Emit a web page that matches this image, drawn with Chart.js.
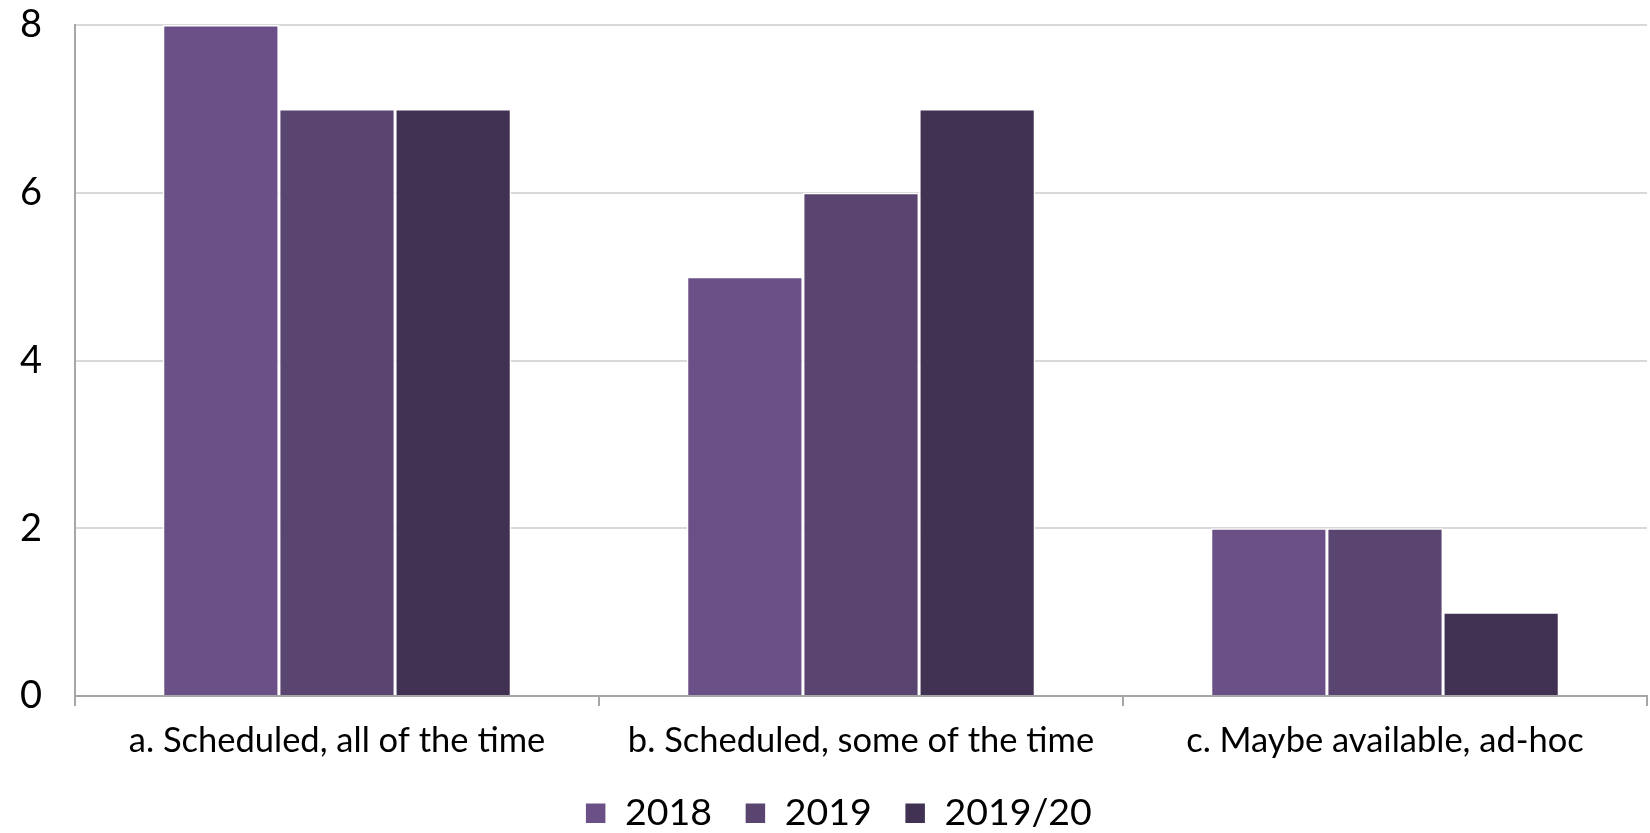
<html><head>
<meta charset="UTF-8">
<title>Scheduled availability</title>
<script src="https://cdn.jsdelivr.net/npm/chart.js"></script>
<style>
    html, body { margin: 0; padding: 0; background: #ffffff; }
    .chart-container { width: 1650px; height: 833px; position: relative; }
</style>
</head>
<body>
<div class="chart-container">
    <canvas id="chart"></canvas>
</div>
<script>
    const categories = ['a. Scheduled, all of the time', 'b. Scheduled, some of the time', 'c. Maybe available, ad-hoc'];
    const series2018 = [8, 5, 2];
    const series2019 = [7, 6, 2];
    const series2020 = [7, 7, 1];
    const yTicks = [0, 2, 4, 6, 8];

    const fontFamily = "Lato, 'Open Sans', sans-serif";

    // nudge the legend a bit to the right, like the original
    const legendShift = {
        id: 'legendShift',
        afterLayout(chart) {
            if (chart.legend) {
                chart.legend.left += 5;
                chart.legend.right += 5;
            }
        }
    };

    const ctx = document.getElementById('chart').getContext('2d');
    new Chart(ctx, {
        type: 'bar',
        data: {
            labels: categories,
            datasets: [
                { label: '2018', data: series2018, backgroundColor: '#6a5086', borderColor: '#ffffff', borderWidth: 1.5 },
                { label: '2019', data: series2019, backgroundColor: '#5a4470', borderColor: '#ffffff', borderWidth: 1.5 },
                { label: '2019/20', data: series2020, backgroundColor: '#413152', borderColor: '#ffffff', borderWidth: 1.5 }
            ]
        },
        options: {
            responsive: true,
            maintainAspectRatio: false,
            animation: false,
            layout: { padding: { top: 25, right: 3, left: 20, bottom: -9 } },
            datasets: {
                bar: { categoryPercentage: 0.665, barPercentage: 1.0 }
            },
            plugins: {
                legend: {
                    position: 'bottom',
                    labels: {
                        color: '#000000',
                        font: { family: fontFamily, size: 37.5 },
                        boxWidth: 21,
                        boxHeight: 21,
                        padding: 33,
                        useBorderRadius: false
                    }
                },
                tooltip: { enabled: false }
            },
            scales: {
                x: {
                    offset: true,
                    afterFit: (axis) => { axis.height -= 14; },
                    border: { color: '#a6a6a6', width: 2 },
                    grid: { offset: true, drawOnChartArea: false, drawTicks: true, tickLength: 10, color: '#a6a6a6', lineWidth: 2 },
                    ticks: { color: '#000000', font: { family: fontFamily, size: 34.5 }, padding: 14, maxRotation: 0 }
                },
                y: {
                    min: 0,
                    max: 8,
                    afterBuildTicks: (axis) => { axis.ticks = yTicks.map(v => ({ value: v })); },
                    afterFit: (axis) => { axis.paddingTop = 0; axis.width = 55; },
                    border: { color: '#a6a6a6', width: 2 },
                    grid: { color: '#d9d9d9', lineWidth: 2, drawTicks: false },
                    ticks: { color: '#000000', font: { family: fontFamily, size: 38 }, padding: 33 }
                }
            }
        },
        plugins: [legendShift]
    });
</script>
</body>
</html>
